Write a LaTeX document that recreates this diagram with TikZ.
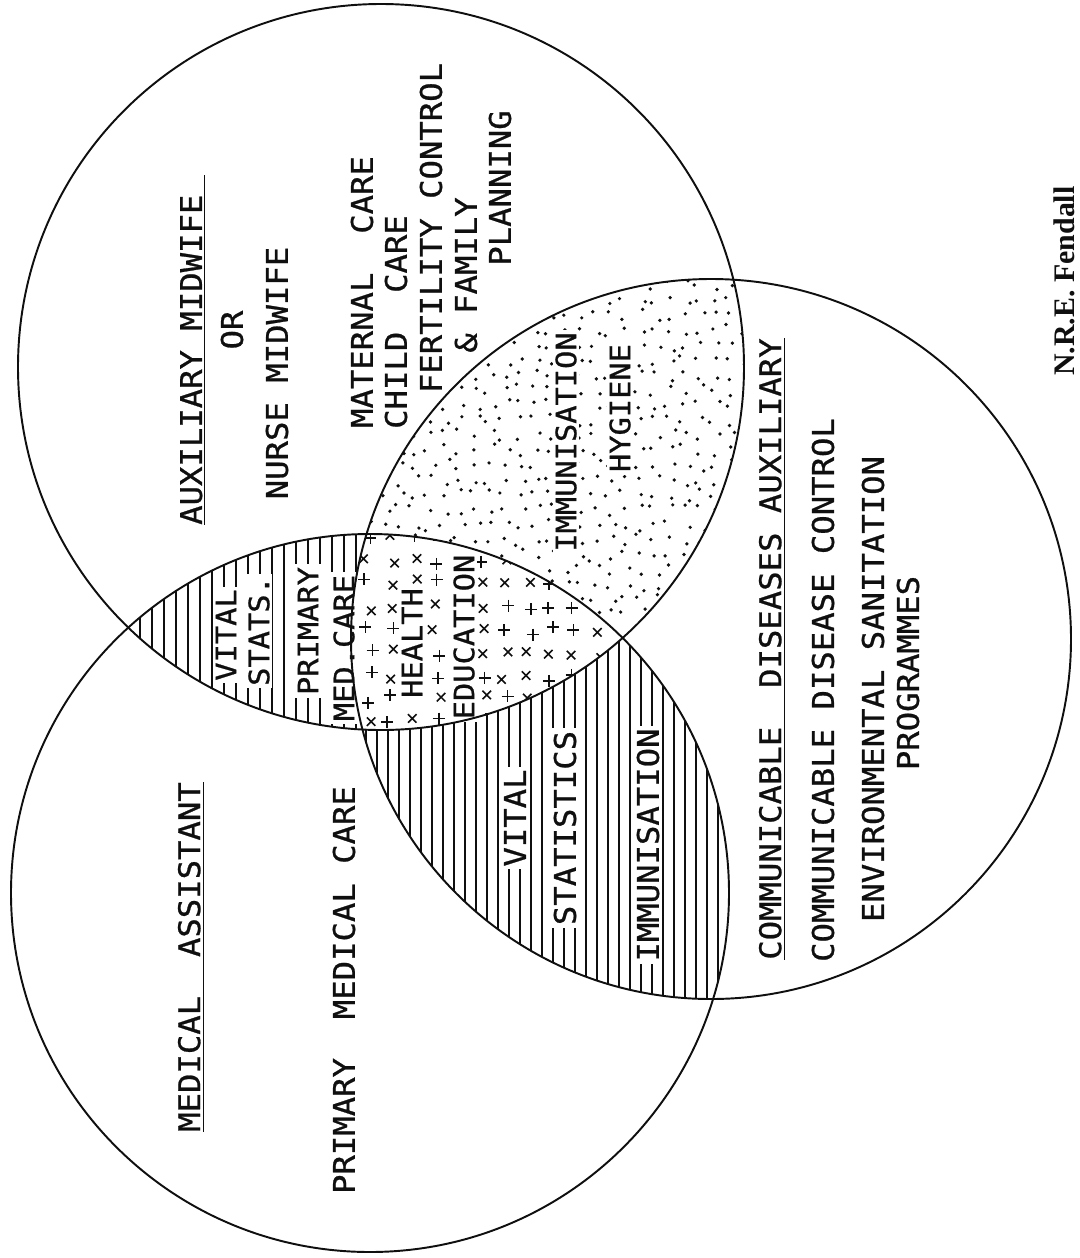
\documentclass[tikz,border=0pt]{standalone}
\usepackage{fontspec}
\newfontfamily\typer[FakeStretch=1.08, FakeBold=0.8]{DejaVu Sans Mono}
\newfontfamily\signfont{Liberation Serif}
\definecolor{ink}{RGB}{15,15,15}
\tikzset{
  every picture/.style={color=ink},
  ring/.style={draw=ink, line width=1.1pt},
  hatch/.style={draw=ink, line width=0.6pt},
  speck/.style={fill=ink},
  crossmk/.style={draw=ink, line width=0.9pt},
  lbl/.style={rotate=90, font=\typer\fontsize{17}{20}\selectfont, inner sep=0pt, text=ink},
  small/.style={lbl, font=\typer\fontsize{16}{19}\selectfont},
  onhatch/.style={fill=white, inner sep=1.5pt},
  sign/.style={rotate=90, font=\signfont\bfseries\fontsize{17}{20}\selectfont, inner sep=0pt},
}
\begin{document}
\begin{tikzpicture}[x=0.02cm, y=-0.02cm]
  \useasboundingbox (0,0) rectangle (1079,1258);
  \fill[white] (0,0) rectangle (1079,1258);
  % circle centres
  \coordinate (cA) at (381,367);
  \coordinate (cB) at (370,893);
  \coordinate (cC) at (711,639);
  \def\rA{363} \def\rB{359} \def\rC{360}

  % midwife / assistant overlap
  \begin{scope}
    \clip (cA) circle[radius=\rA];
    \clip (cB) circle[radius=\rB];
    \foreach \x in {128,140,...,632} \draw[hatch] (\x,520) -- (\x,745);
  \end{scope}
  % assistant / communicable overlap
  \begin{scope}
    \clip (cB) circle[radius=\rB];
    \clip (cC) circle[radius=\rC];
    \foreach \x in {355,366,...,725} \draw[hatch] (\x,520) -- (\x,1005);
  \end{scope}
  % midwife / communicable overlap
  \begin{scope}
    \clip (cA) circle[radius=\rA];
    \clip (cC) circle[radius=\rC];
    \pgfmathsetseed{11}
    \foreach \gx in {0,...,26}
      \foreach \gy in {0,...,33}{
        \pgfmathsetmacro\px{355+15*\gx+6*rand}
        \pgfmathsetmacro\py{270+15*\gy+6*rand}
        \fill[speck] (\px,\py) circle (1.05pt);
      }
  \end{scope}
  % all three
  \begin{scope}
    \clip (cA) circle[radius=\rA];
    \clip (cB) circle[radius=\rB];
    \clip (cC) circle[radius=\rC];
    \fill[white] (300,500) rectangle (700,760);
    \pgfmathsetseed{5}
    \foreach \gx in {0,...,11}
      \foreach \gy in {0,...,9}{
        \pgfmathsetmacro\cx{368+23*\gx+5*rand}
        \pgfmathsetmacro\cy{538+23*\gy+5*rand}
        \pgfmathsetmacro\ca{45*round(rnd)}
        \draw[crossmk, rotate around={\ca:(\cx,\cy)}] (\cx-6,\cy) -- (\cx+6,\cy) (\cx,\cy-6) -- (\cx,\cy+6);
      }
  \end{scope}

  % midwife
  \node[lbl] (aux) at (193,350) {\underline{AUXILIARY MIDWIFE\ }};
  \node[lbl] (or) at (232,330) {OR};
  \node[lbl] (nurse) at (277,373) {NURSE MIDWIFE};
  \node[lbl] (maternal) at (362,292) {MATERNAL\ \ CARE};
  \node[lbl] (child) at (396,322) {CHILD\ \ CARE};
  \node[lbl] (fertility) at (431,228) {FERTILITY CONTROL};
  \node[lbl] (family) at (466,275) {\& FAMILY};
  \node[lbl] (planning) at (500,188) {PLANNING};
  % overlaps
  \node[small, onhatch] (vitalAB) at (226,635) {VITAL};
  \node[small, onhatch] (statsAB) at (259,631) {STATS.};
  \node[small, onhatch] (primaryAB) at (308,631) {PRIMARY};
  \node[small, onhatch] (medcare) at (344,648) {MED.CARE};
  \node[small, onhatch] (health) at (412,643) {HEALTH};
  \node[small, onhatch] (education) at (464,637) {EDUCATION};
  \node[small, onhatch] (immAC) at (566,442) {IMMUNISATION};
  \node[small, onhatch] (hygiene) at (620,408) {HYGIENE};
  \node[lbl, onhatch] (vitalBC) at (515,818) {VITAL};
  \node[lbl, onhatch] (statistics) at (565,828) {STATISTICS};
  \node[lbl, onhatch] (immBC) at (648,845) {IMMUNISATION};
  % communicable
  \node[lbl] (cdaux) at (772,649) {\underline{COMMUNICABLE\ \ DISEASES AUXILIARY}};
  \node[lbl] (cdcontrol) at (823,690) {COMMUNICABLE DISEASE CONTROL};
  \node[lbl] (envsan) at (873,689) {ENVIRONMENTAL SANITATION};
  \node[lbl] (programmes) at (908,673) {PROGRAMMES};
  % assistant
  \node[lbl] (medasst) at (191,957) {\underline{MEDICAL\ \ ASSISTANT}};
  \node[lbl] (primcare) at (344,990) {PRIMARY\ \ MEDICAL CARE};

  \node[sign] (author) at (1064,281) {N.R.E. Fendall};

  % circles
  \draw[ring] (cA) circle[radius=\rA];
  \draw[ring] (cB) circle[radius=\rB];
  \draw[ring] (cC) circle[radius=\rC];
\end{tikzpicture}
\end{document}
